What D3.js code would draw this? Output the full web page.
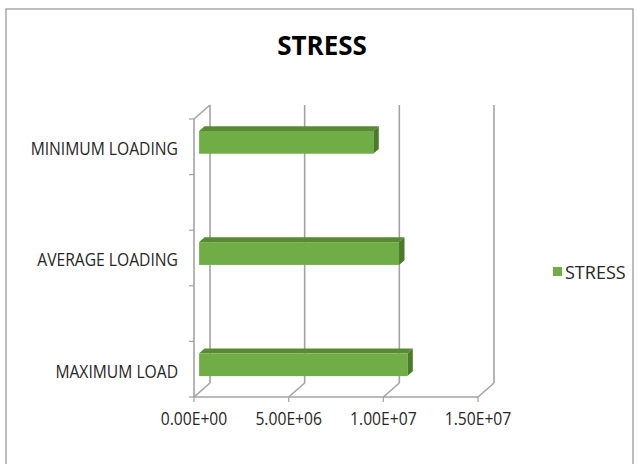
<!DOCTYPE html>
<html>
<head>
<meta charset="utf-8">
<script src="https://cdn.jsdelivr.net/npm/d3@7"></script>
<style>
  body { margin: 0; background: #fff; }
  text { font-family: "Open Sans", sans-serif; fill: #262626; }
</style>
</head>
<body>
<div id="chart"></div>
<script>
// data
const categories = ["MINIMUM LOADING", "AVERAGE LOADING", "MAXIMUM LOAD"]
const stressValues = [9.2e6, 1.056e7, 1.1e7]
const tickValues = [0, 5e6, 1e7, 1.5e7]
const tickLabels = ["0.00E+00", "5.00E+06", "1.00E+07", "1.50E+07"]
const seriesName = "STRESS"

const W = 638, H = 464
const depth = { x: 16, y: -14 }   // 3d wall depth
const barDepth = [0.32, 0.66]     // bar front / back, fraction of depth
const gridColor = "#a3a3a3"
const squeeze = 0.87              // narrow-font look for axis text

const svg = d3.select("#chart").append("svg")
  .attr("width", W)
  .attr("height", H)

// outer frame
svg.append("rect")
  .attr("x", 6).attr("y", 9)
  .attr("width", 627).attr("height", 470)
  .attr("fill", "none")
  .attr("stroke", "#9a9a9a")
  .attr("stroke-width", 1.3)

// title
svg.append("text")
  .attr("x", 322).attr("y", 55)
  .attr("text-anchor", "middle")
  .attr("font-size", 26)
  .attr("font-weight", "bold")
  .style("fill", "#000")
  .text(seriesName)

const x = d3.scaleLinear().domain([0, 1.5e7]).range([194, 478])
const y = d3.scaleBand().domain(categories).range([119, 397]).paddingInner(0.5).paddingOuter(0)
const yTop = y.range()[0], yBot = y.range()[1]

const g = svg.append("g")

// back wall gridlines
g.selectAll("line.grid").data(tickValues).enter().append("line")
  .attr("class", "grid")
  .attr("x1", d => x(d) + depth.x).attr("x2", d => x(d) + depth.x)
  .attr("y1", yTop + depth.y).attr("y2", yBot + depth.y)
  .attr("stroke", gridColor).attr("stroke-width", 1.6)

// floor diagonals
g.selectAll("line.floor").data(tickValues).enter().append("line")
  .attr("x1", d => x(d)).attr("y1", yBot)
  .attr("x2", d => x(d) + depth.x).attr("y2", yBot + depth.y)
  .attr("stroke", gridColor).attr("stroke-width", 1.6)

// front floor edge + bottom ticks
g.append("line")
  .attr("x1", x(0)).attr("x2", x(1.5e7))
  .attr("y1", yBot).attr("y2", yBot)
  .attr("stroke", gridColor).attr("stroke-width", 1.6)
g.selectAll("line.xtick").data(tickValues).enter().append("line")
  .attr("x1", d => x(d)).attr("x2", d => x(d))
  .attr("y1", yBot).attr("y2", yBot + 5)
  .attr("stroke", gridColor).attr("stroke-width", 1.2)

// left wall
g.append("line")
  .attr("x1", x(0)).attr("x2", x(0))
  .attr("y1", yTop).attr("y2", yBot)
  .attr("stroke", gridColor).attr("stroke-width", 1.6)
g.append("line")
  .attr("x1", x(0)).attr("y1", yTop)
  .attr("x2", x(0) + depth.x).attr("y2", yTop + depth.y)
  .attr("stroke", gridColor).attr("stroke-width", 1.6)
const yTicks = []
categories.forEach(c => { yTicks.push(y(c)); yTicks.push(y(c) + y.bandwidth()) })
g.selectAll("line.ytick").data(yTicks).enter().append("line")
  .attr("x1", x(0) - 5).attr("x2", x(0))
  .attr("y1", d => d).attr("y2", d => d)
  .attr("stroke", gridColor).attr("stroke-width", 1.2)

// x labels
g.selectAll("text.xlab").data(tickValues).enter().append("text")
  .attr("transform", d => "translate(" + x(d) + "," + 425 + ") scale(" + squeeze + ",1)")
  .attr("text-anchor", "middle")
  .attr("font-size", 18)
  .text((d, i) => tickLabels[i])

// y labels
g.selectAll("text.ylab").data(categories).enter().append("text")
  .attr("transform", d => "translate(178," + (y(d) + y.bandwidth() / 2 + 2) + ") scale(" + squeeze + ",1)")
  .attr("dy", "0.35em")
  .attr("text-anchor", "end")
  .attr("font-size", 18)
  .text(d => d)

// bars
const barH = y.bandwidth() * 0.41
const fx = barDepth[0] * depth.x, fy = barDepth[0] * depth.y
const dx = (barDepth[1] - barDepth[0]) * depth.x, dy = (barDepth[1] - barDepth[0]) * depth.y
const bars = g.selectAll("g.bar").data(categories.map((c, i) => ({ c, v: stressValues[i] })))
  .enter().append("g")
bars.each(function (d) {
  const sel = d3.select(this)
  const x0 = x(0) + fx, x1 = x(d.v) + fx
  const cy = y(d.c) + y.bandwidth() / 2 + fy
  const yt = cy - barH / 2, yb = cy + barH / 2
  sel.append("polygon")
    .attr("points", [[x0, yt], [x1, yt], [x1 + dx, yt + dy], [x0 + dx, yt + dy]].join(" "))
    .attr("fill", "#578a33")
  sel.append("polygon")
    .attr("points", [[x1, yt], [x1 + dx, yt + dy], [x1 + dx, yb + dy], [x1, yb]].join(" "))
    .attr("fill", "#4a7a2a")
  sel.append("rect")
    .attr("x", x0).attr("y", yt)
    .attr("width", x1 - x0).attr("height", barH)
    .attr("fill", "#70ad47")
})

// legend
svg.append("rect")
  .attr("x", 553).attr("y", 267)
  .attr("width", 9).attr("height", 9)
  .attr("fill", "#70ad47")
svg.append("text")
  .attr("x", 565).attr("y", 279)
  .attr("font-size", 18)
  .text(seriesName)
</script>
</body>
</html>
